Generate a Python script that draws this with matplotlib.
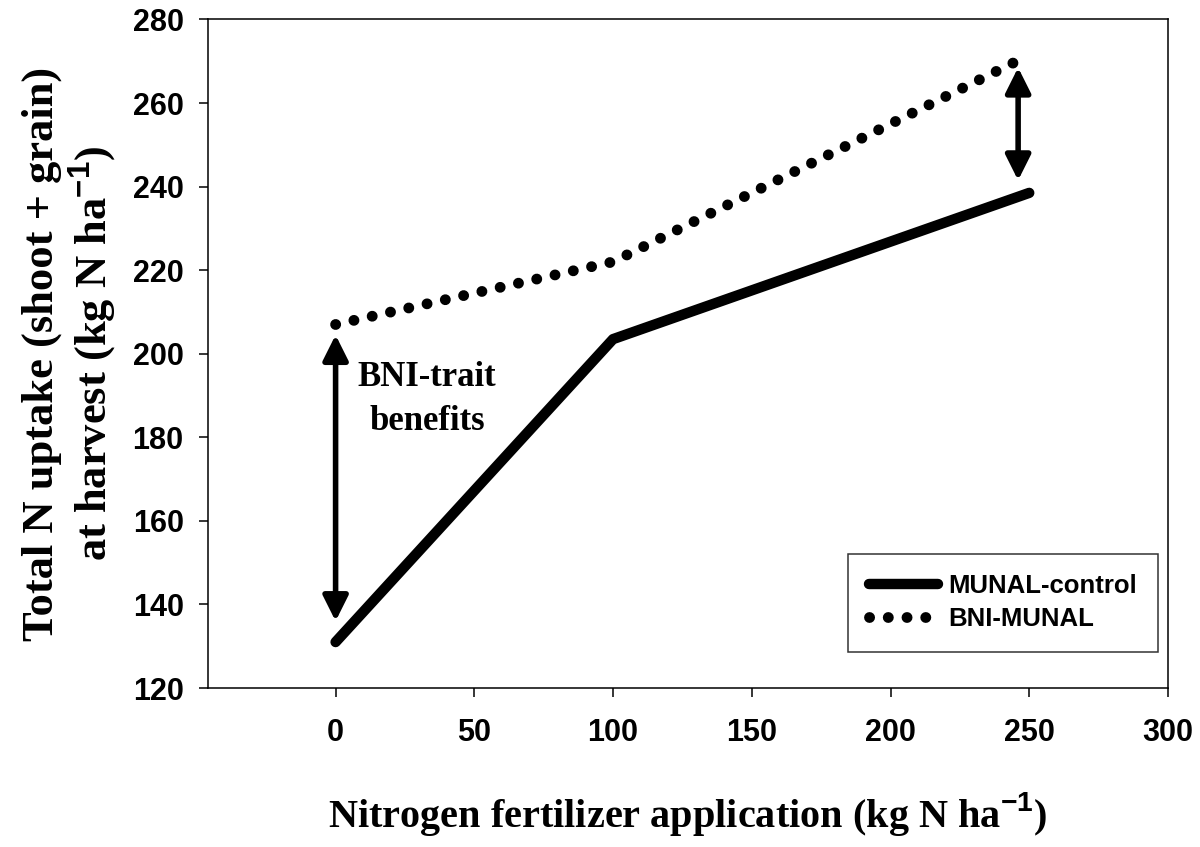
import matplotlib
matplotlib.use('Agg')
import matplotlib.pyplot as plt

# data
n_rate = [0, 100, 250]
munal_control = [131, 203.5, 238.5]

bni_rate = [0, 50, 100, 150, 200, 250]
bni_munal = [207, 214.5, 222, 238.5, 255, 271.5]

x_ticks = [0, 50, 100, 150, 200, 250, 300]
y_ticks = [120, 140, 160, 180, 200, 220, 240, 260, 280]

plt.rcParams['mathtext.fontset'] = 'custom'
plt.rcParams['mathtext.rm'] = 'Liberation Sans:bold'
plt.rcParams['mathtext.bf'] = 'Liberation Sans:bold'

fig = plt.figure(figsize=(12, 8.47), dpi=100)
ax = fig.add_axes([0.1733, 0.1877, 0.80, 0.7893])

ax.plot(n_rate, munal_control, color='black', lw=7.5,
        solid_capstyle='round', solid_joinstyle='round', label='MUNAL-control')
ax.plot(bni_rate, bni_munal, color='black', lw=7.8, linestyle=(0, (0.01, 1.72)),
        dash_capstyle='round', label='BNI-MUNAL')

# double arrows showing the gap
arrow = dict(arrowstyle='<|-|>', color='black', lw=4, mutation_scale=38,
             shrinkA=0, shrinkB=0)
ax.annotate('', xy=(0, 136), xytext=(0, 204.5), arrowprops=arrow)
ax.annotate('', xy=(246, 241.5), xytext=(246, 268.5), arrowprops=arrow)

ax.text(33, 189, 'BNI-trait\nbenefits', ha='center', va='center',
        family='Liberation Serif', weight='bold', fontsize=25, linespacing=1.45)

ax.set_xlim(-46, 300)
ax.set_ylim(120, 280)
ax.set_xticks(x_ticks)
ax.set_yticks(y_ticks)

for s in ax.spines.values():
    s.set_linewidth(1.1)
ax.tick_params(direction='out', length=6.5, width=1.1, top=False, right=False)
ax.tick_params(axis='x', pad=15)
ax.tick_params(axis='y', pad=11)
for lab in ax.get_xticklabels() + ax.get_yticklabels():
    lab.set_family('Liberation Sans')
    lab.set_weight('bold')
    lab.set_fontsize(22)

ax.set_xlabel('Nitrogen fertilizer application (kg N ha$^{-1}$)',
              family='Liberation Serif', weight='bold', fontsize=29, labelpad=30)
ax.set_ylabel('Total N uptake (shoot + grain)\nat harvest (kg N ha$^{-1}$)',
              family='Liberation Serif', weight='bold', fontsize=32,
              labelpad=10, linespacing=1.12)

leg = ax.legend(loc='lower right', bbox_to_anchor=(0.9896, 0.054),
                prop={'family': 'Liberation Sans', 'weight': 'bold', 'size': 18.5},
                handlelength=2.7, frameon=True, fancybox=False,
                borderpad=0.8, labelspacing=0.35, handletextpad=0.4,
                borderaxespad=0)
leg.get_frame().set_edgecolor('black')
leg.get_frame().set_linewidth(1.1)

fig.savefig('out.png', dpi=100)
